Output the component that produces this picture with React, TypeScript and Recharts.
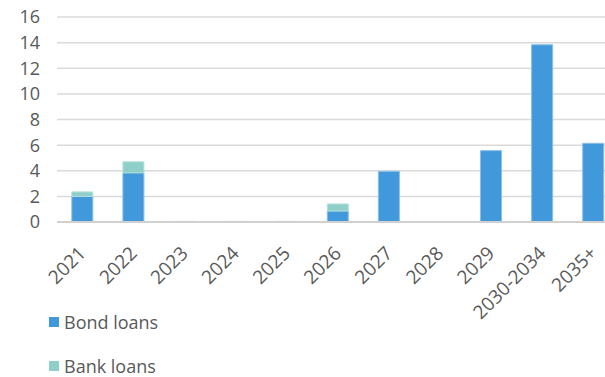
import { BarChart, Bar, XAxis, YAxis, CartesianGrid } from "recharts";

const categories = ["2021", "2022", "2023", "2024", "2025", "2026", "2027", "2028", "2029", "2030-2034", "2035+"];
const bondLoans = [2.0, 3.84, 0, 0, 0, 0.86, 3.95, 0, 5.57, 13.83, 6.14];
const bankLoans = [0.35, 0.86, 0.05, 0.05, 0.05, 0.55, 0, 0, 0, 0, 0];
const yTicks = [0, 2, 4, 6, 8, 10, 12, 14, 16];

const COLORS = {
  bond: "#4198da",
  bondEdge: "#86bfea",
  bank: "#8ed0c9",
  bankEdge: "#b4e0db",
  grid: "#dadada",
  text: "#595959",
};

const FONT = "'Open Sans', Lato, sans-serif";

const data = categories.map((name, i) => ({ name, bond: bondLoans[i], bank: bankLoans[i] }));

function AngledTick(props: any) {
  const { x, y, payload } = props;
  const ax = x - 4;
  const ay = y + 16;
  return (
    <text
      x={ax}
      y={ay}
      dy={12}
      textAnchor="end"
      transform={`rotate(-45, ${ax}, ${ay})`}
      fill={COLORS.text}
      fontSize={19}
      fontFamily={FONT}
    >
      {payload.value}
    </text>
  );
}

const legendItems = [
  { label: "Bond loans", color: COLORS.bond, top: 313 },
  { label: "Bank loans", color: COLORS.bank, top: 357 },
];

export default function App() {
  return (
    <div
      style={{
        position: "fixed",
        left: 0,
        top: 0,
        width: 605,
        height: 377,
        overflow: "hidden",
        background: "#fff",
      }}
    >
      <BarChart
        width={620}
        height={377}
        data={data}
        barCategoryGap="29%"
        margin={{ top: 17, right: 1, bottom: 0, left: 0 }}
      >
        <CartesianGrid stroke={COLORS.grid} strokeWidth={1.5} vertical={false} />
        <XAxis
          dataKey="name"
          interval={0}
          height={155}
          tickLine={false}
          axisLine={{ stroke: "#d0d0d0", strokeWidth: 2 }}
          tick={<AngledTick />}
        />
        <YAxis
          width={57}
          domain={[0, 16]}
          ticks={yTicks}
          interval={0}
          tickLine={false}
          axisLine={false}
          tickSize={17}
          tickMargin={0}
          tick={{ fill: COLORS.text, fontSize: 18, fontFamily: FONT }}
        />
        <Bar dataKey="bond" stackId="a" fill={COLORS.bond} stroke={COLORS.bondEdge} strokeWidth={1} isAnimationActive={false} />
        <Bar dataKey="bank" stackId="a" fill={COLORS.bank} stroke={COLORS.bankEdge} strokeWidth={1} isAnimationActive={false} />
      </BarChart>
      {legendItems.map((item) => (
        <div
          key={item.label}
          style={{
            position: "absolute",
            left: 49,
            top: item.top,
            display: "flex",
            alignItems: "center",
            fontFamily: FONT,
            fontSize: 18,
            lineHeight: "18px",
            color: COLORS.text,
          }}
        >
          <span style={{ width: 10, height: 10, background: item.color, marginRight: 5 }} />
          {item.label}
        </div>
      ))}
    </div>
  );
}
